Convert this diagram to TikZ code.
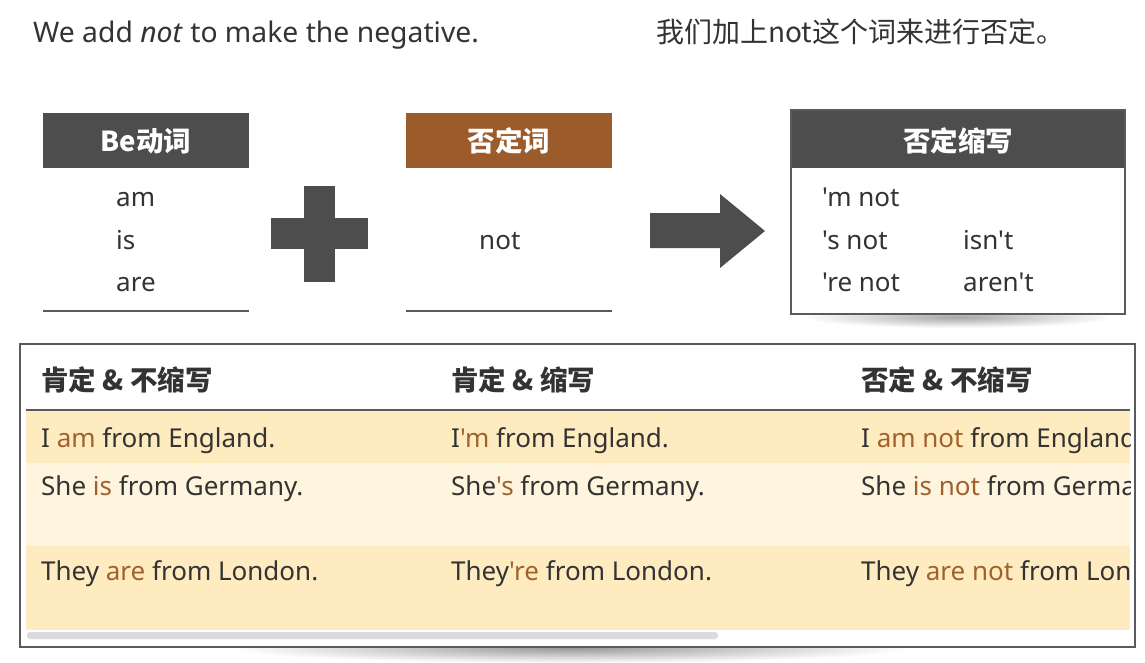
\documentclass[tikz,border=0pt]{standalone}
\usepackage{fontspec}
\setmainfont{Noto Sans}[Ligatures=TeXOff]
\newfontfamily\cjk{Noto Sans CJK SC}
\usetikzlibrary{shapes.geometric}
\definecolor{txtgray}{HTML}{333333}
\definecolor{hdrgray}{HTML}{4D4D4D}
\definecolor{hdrbrown}{HTML}{9C5B2A}
\definecolor{hlbrown}{HTML}{A0622D}
\definecolor{rowA}{HTML}{FFEBC0}
\definecolor{rowB}{HTML}{FFF5DF}
\definecolor{linegray}{HTML}{5A5A5A}
\newcommand\brn[1]{\textcolor{hlbrown}{#1}}
\tikzset{
  txt/.style={font=\fontsize{26}{30}\selectfont, text=txtgray, inner sep=0pt, anchor=base west},
  hdrtxt/.style={font=\cjk\bfseries\fontsize{27.5}{30}\selectfont, text=white, inner sep=0pt},
  colhdr/.style={font=\cjk\bfseries\fontsize{27.5}{30}\selectfont, text=txtgray, inner sep=0pt, anchor=west},
  rule/.style={draw=linegray, line width=2pt},
}
\begin{document}
\begin{tikzpicture}[x=1pt,y=-1pt]
\useasboundingbox (0,0) rectangle (1145,663);
\fill[white] (0,0) rectangle (1145,663);

% titles
\node[txt, font=\fontsize{28.3}{30}\selectfont] (title) at (33,43) {We add \textit{not} to make the negative.};
\node[txt, font=\cjk\fontsize{28}{30}\selectfont, anchor=west] (titlecn) at (656,32) {我们加上not这个词来进行否定。};

% box 1: Be verbs
\fill[hdrgray] (43,113) rectangle (249,168);
\node[hdrtxt] (behdr) at (146,141) {Be动词};
\node[txt] (am) at (116,207) {am};
\node[txt] (is) at (116,249) {is};
\node[txt] (are) at (116,291) {are};
\coordinate (l1a) at (43,311);
\coordinate (l1b) at (249,311);
\draw[rule] (l1a) -- (l1b);

% plus
\fill[hdrgray] (304,186) rectangle (335,282);
\fill[hdrgray] (271,218) rectangle (368,249);

% box 2: not
\fill[hdrbrown] (406,113) rectangle (612,168);
\node[hdrtxt] (nothdr) at (509,141) {否定词};
\node[txt] (not) at (479,249) {not};
\coordinate (l2a) at (406,311);
\coordinate (l2b) at (612,311);
\draw[rule] (l2a) -- (l2b);

% arrow
\fill[hdrgray] (650,213) -- (720,213) -- (720,194) -- (765,231) -- (720,268) -- (720,248) -- (650,248) -- cycle;

% box 3 shadow
\shade[inner color=black!35, outer color=white] (958,317) ellipse (155 and 11);
% box 3
\fill[white] (791,110) rectangle (1125,314);
\fill[hdrgray] (791,110) rectangle (1125,168);
\draw[linegray, line width=1.6pt] (791,110) rectangle (1125,314);
\node[hdrtxt] (neghdr) at (958,141) {否定缩写};
\node[txt] (mnot) at (822,206) {'m not};
\node[txt] (snot) at (822,249) {'s not};
\node[txt] (renot) at (822,291) {'re not};
\node[txt] (isnt) at (963,249) {isn't};
\node[txt] (arent) at (963,291) {aren't};

% table shadow
\shade[inner color=black!40, outer color=white] (570,648) ellipse (340 and 15);
% table
\fill[white] (20,344) rectangle (1135,647);
\draw[linegray, line width=1.2pt] (20,344) rectangle (1135,647);
\node[colhdr] (h1) at (41,380) {肯定 \& 不缩写};
\node[colhdr] (h2) at (451,380) {肯定 \& 缩写};
\node[colhdr] (h3) at (861,380) {否定 \& 不缩写};
\fill[rowA] (26,411) rectangle (1130,463);
\fill[rowB] (26,463) rectangle (1130,546);
\fill[rowA] (26,546) rectangle (1130,630);
\coordinate (hla) at (26,410);
\coordinate (hlb) at (1130,410);
\draw[linegray, line width=2pt] (hla) -- (hlb);

\node[txt] (r1c1) at (41,447) {I \brn{am} from England.};
\node[txt] (r2c1) at (41,495) {She \brn{is} from Germany.};
\node[txt] (r3c1) at (41,580) {They \brn{are} from London.};
\node[txt] (r1c2) at (451,447) {I\brn{'m} from England.};
\node[txt] (r2c2) at (451,495) {She\brn{'s} from Germany.};
\node[txt] (r3c2) at (451,580) {They\brn{'re} from London.};
\begin{scope}
\clip (26,411) rectangle (1130,630);
\node[txt] (r1c3) at (861,447) {I \brn{am not} from England.};
\node[txt] (r2c3) at (861,495) {She \brn{is not} from Germany.};
\node[txt] (r3c3) at (861,580) {They \brn{are not} from London.};
\end{scope}

% scrollbar
\fill[black!14, rounded corners=3pt] (27,632) rectangle (718,639);
\end{tikzpicture}
\end{document}
